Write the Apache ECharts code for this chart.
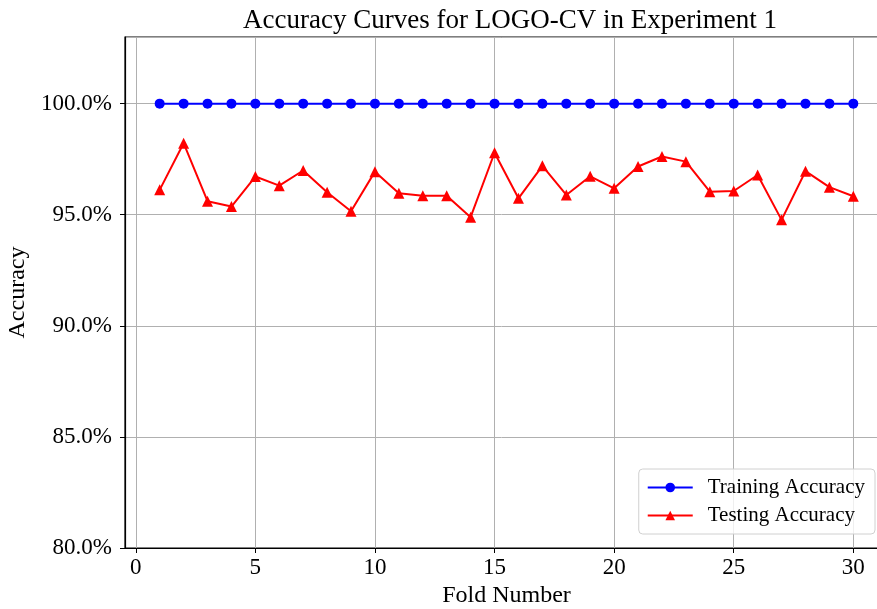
<!DOCTYPE html>
<html>
<head>
<meta charset="utf-8">
<script src="https://cdn.jsdelivr.net/npm/echarts@6/dist/echarts.min.js"></script>
<style>
  html, body { margin: 0; padding: 0; background: #fff; }
  #chart { width: 877px; height: 609px; }
</style>
</head>
<body>
<div id="chart"></div>
<script>
  // fold numbers 1..30
  var folds = [1,2,3,4,5,6,7,8,9,10,11,12,13,14,15,16,17,18,19,20,21,22,23,24,25,26,27,28,29,30];
  // accuracy in percent
  var trainAcc = [100,100,100,100,100,100,100,100,100,100,100,100,100,100,100,100,100,100,100,100,100,100,100,100,100,100,100,100,100,100];
  var testAcc = [96.12,98.22,95.61,95.37,96.72,96.31,96.99,96.01,95.16,96.94,
                 95.97,95.86,95.85,94.89,97.79,95.74,97.20,95.89,96.73,96.19,
                 97.17,97.62,97.39,96.04,96.07,96.79,94.77,96.96,96.24,95.83];

  var serif = '"Liberation Serif", "DejaVu Serif", serif';
  var chart = echarts.init(document.getElementById('chart'));

  function pairs(arr) {
    return folds.map(function (f, i) { return [f, arr[i]]; });
  }

  var option = {
    animation: false,
    title: {
      text: 'Accuracy Curves for LOGO-CV in Experiment 1',
      left: 505,
      top: 2,
      textAlign: 'center',
      textStyle: { fontFamily: serif, fontSize: 27, fontWeight: 'normal', color: '#000' }
    },
    grid: {
      left: 125, top: 37, width: 763, height: 511,
      outerBoundsMode: 'none',
      containLabel: false,
      show: true, borderColor: '#000', borderWidth: 1.2, backgroundColor: 'transparent'
    },
    legend: {
      orient: 'vertical',
      right: 2,
      top: 469,
      padding: [8, 10, 8, 8],
      itemGap: 7,
      itemWidth: 45,
      itemHeight: 12,
      borderColor: '#d0d0d0',
      borderWidth: 1,
      borderRadius: 4,
      backgroundColor: 'rgba(255,255,255,0.8)',
      textStyle: { fontFamily: serif, fontSize: 21, color: '#000', padding: [0, 0, 0, 10] },
      data: ['Training Accuracy', 'Testing Accuracy']
    },
    xAxis: {
      type: 'value',
      min: -0.45,
      max: 31.45,
      splitNumber: 6,
      name: 'Fold Number',
      nameLocation: 'middle',
      nameGap: 36,
      nameTextStyle: { fontFamily: serif, fontSize: 24, color: '#000' },
      axisLine: { show: true, onZero: false, lineStyle: { color: '#000', width: 1.2 } },
      axisTick: { show: true, inside: false, length: 5, lineStyle: { color: '#000' } },
      axisLabel: {
        showMinLabel: false, showMaxLabel: false,
        fontFamily: serif, fontSize: 23, color: '#000', margin: 8
      },
      splitLine: { show: true, lineStyle: { color: '#b0b0b0', width: 1 } }
    },
    yAxis: {
      type: 'value',
      min: 80,
      max: 103,
      interval: 5,
      name: 'Accuracy',
      nameLocation: 'middle',
      nameGap: 93,
      nameRotate: 90,
      nameTextStyle: { fontFamily: serif, fontSize: 24, color: '#000' },
      axisLine: { show: true, onZero: false, lineStyle: { color: '#000', width: 1.2 } },
      axisTick: { show: true, inside: false, length: 5, lineStyle: { color: '#000' } },
      axisLabel: {
        showMaxLabel: false,
        fontFamily: serif, fontSize: 23, color: '#000', margin: 13,
        formatter: function (v) { return v.toFixed(1) + '%'; }
      },
      splitLine: { show: true, lineStyle: { color: '#b0b0b0', width: 1 } }
    },
    series: [
      {
        name: 'Training Accuracy',
        type: 'line',
        data: pairs(trainAcc),
        symbol: 'circle',
        symbolSize: 10,
        lineStyle: { color: '#0000ff', width: 2 },
        itemStyle: { color: '#0000ff' },
        z: 3
      },
      {
        name: 'Testing Accuracy',
        type: 'line',
        data: pairs(testAcc),
        symbol: 'triangle',
        symbolSize: 11,
        lineStyle: { color: '#ff0000', width: 2 },
        itemStyle: { color: '#ff0000' },
        z: 3
      }
    ]
  };

  chart.setOption(option);
</script>
</body>
</html>
